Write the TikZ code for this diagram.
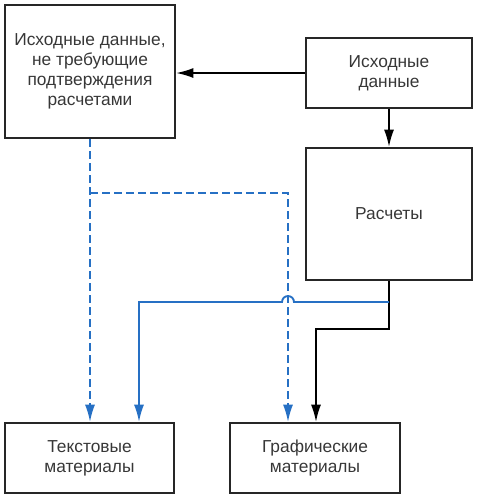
\documentclass[tikz,border=0pt]{standalone}
\usepackage{fontspec}
\setmainfont{Liberation Sans}
\usetikzlibrary{arrows.meta}
\definecolor{lineblue}{RGB}{38,112,196}
\definecolor{textgray}{RGB}{55,55,55}

\begin{document}
\begin{tikzpicture}[x=0.75pt, y=-0.75pt, font=\fontsize{13}{15}\selectfont,
    box/.style={draw=black!85, line width=1.5pt, text=textgray, align=center, inner sep=0pt},
    flow/.style={line width=1.4pt, -{Latex[length=13pt,width=7.5pt]}},
    bluedash/.style={draw=lineblue, line width=1.4pt, dash pattern=on 6pt off 3pt},
    blueline/.style={draw=lineblue, line width=1.5pt}]
  \useasboundingbox (0,0) rectangle (479,500);

  % boxes
  \node[box, minimum width=170*0.75pt, minimum height=133*0.75pt] (src) at (90,71.5)
    {Исходные данные,\\не требующие\\подтверждения\\расчетами};
  \node[box, minimum width=166*0.75pt, minimum height=70*0.75pt] (data) at (389,73)
    {Исходные\\данные};
  \node[box, minimum width=166*0.75pt, minimum height=132*0.75pt] (calc) at (389,214)
    {Расчеты};
  \node[box, minimum width=169*0.75pt, minimum height=70*0.75pt] (text) at (89.5,458)
    {Текстовые\\материалы};
  \node[box, minimum width=170*0.75pt, minimum height=70*0.75pt] (graph) at (315,458)
    {Графические\\материалы};

  % black connectors
  \draw[flow] (data.west) -- (data.west -| src.east);
  \draw[flow] (data.south) -- (calc.north);
  \coordinate (k1) at (389,329);
  \coordinate (k2) at (316,329);
  \draw[flow] (calc.south) -- (k1) -- (k2) -- (k2 |- graph.north);

  % blue dashed connectors
  \coordinate (d1) at (90,193);
  \coordinate (d2) at (288,193);
  \draw[bluedash, flow, lineblue] (src.south) -- (src.south |- text.north);
  \draw[bluedash, flow, lineblue] (d1) -- (d2) -- (d2 |- graph.north);

  % blue solid connector with jump
  \coordinate (s1) at (389,302);
  \coordinate (s2) at (139,302);
  \draw[blueline, flow, lineblue] (s1) -- (294,302) arc (0:-180:6) -- (s2) -- (s2 |- text.north);
\end{tikzpicture}
\end{document}
